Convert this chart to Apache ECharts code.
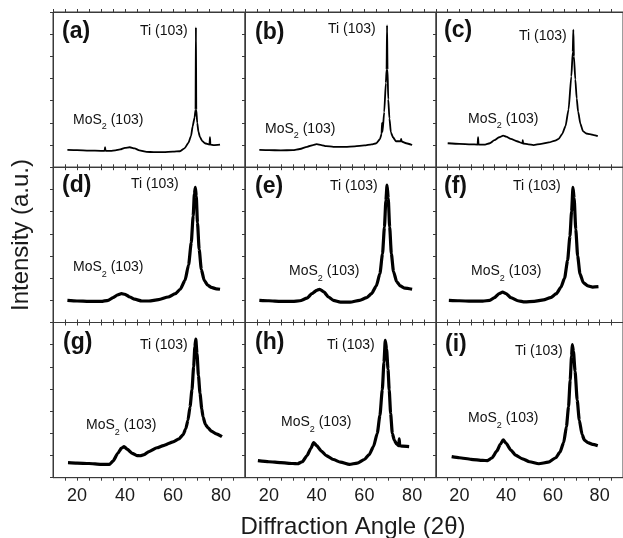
<!DOCTYPE html>
<html>
<head>
<meta charset="utf-8">
<script src="https://cdn.jsdelivr.net/npm/echarts@6/dist/echarts.min.js"></script>
<style>html,body{margin:0;padding:0;background:#fff}#c{width:623px;height:538px}</style>
</head>
<body>
<div id="c"></div>
<script>
// ---- data (2θ, intensity a.u.) ----
const xTickLabels = [20, 40, 60, 80];
const panelNames = ['(a)', '(b)', '(c)', '(d)', '(e)', '(f)', '(g)', '(h)', '(i)'];
const peakTi = 'Ti (103)';
const peakMoS2 = ['MoS', '2', ' (103)'];

const panelA = [[16,0.78],[20,0.77],[25,0.75],[30,0.74],[31.5,0.74],[31.7,0.9],[31.9,0.74],[34,0.74],[36,0.76],[38,0.8],[40,0.87],[42,0.9],[44,0.85],[46,0.76],[49,0.69],[52,0.68],[56,0.68],[60,0.7],[62.9,0.72],[64.8,0.85],[66.4,1.1],[67.5,1.4],[68.2,1.85],[69.0,2.25],[69.4,2.6],[69.55,6.3],[69.7,2.6],[70.1,2.0],[70.6,1.6],[71.25,1.35],[72.2,1.18],[73.3,1.08],[75.2,1.02],[75.4,1.35],[75.6,1.02],[77,1.0],[79.6,1.02]];
const panelB = [[16,0.78],[20,0.77],[25,0.76],[30,0.77],[33,0.82],[36,0.92],[38.5,1.0],[40,1.04],[42,1.0],[44,0.95],[47,0.92],[52,0.92],[56,0.94],[60,0.98],[63,1.03],[65,1.08],[66.5,1.26],[67.2,1.5],[67.4,2.0],[67.6,1.6],[68.3,2.48],[69.0,3.8],[69.3,4.4],[69.5,6.4],[69.7,4.4],[70.0,3.06],[70.5,2.2],[71.1,1.57],[72.0,1.35],[73.2,1.17],[75.2,1.17],[75.4,1.28],[75.6,1.16],[77.5,1.08],[80,1.0]];
const panelC = [[15,1.08],[20,1.05],[25,1.03],[27.8,1.02],[28,1.35],[28.2,1.02],[31,1.02],[33,1.08],[35,1.22],[37,1.35],[38.75,1.42],[40,1.38],[42,1.28],[44.6,1.17],[47,1.08],[47.1,1.22],[47.3,1.07],[49.5,1.03],[51.7,1.0],[55,1.05],[58.3,1.12],[61,1.2],[62.5,1.28],[64,1.5],[65.4,1.85],[66.7,2.6],[67.9,4.1],[68.5,5.2],[68.75,6.2],[69.0,5.0],[69.6,3.96],[70.2,3.1],[70.8,2.5],[71.8,1.95],[72.9,1.62],[74.3,1.52],[75.8,1.49],[77.5,1.45],[79.2,1.4]];
const panelD = [[16,1.0],[20,0.97],[25,0.95],[30,0.95],[33,1.0],[35,1.12],[37,1.25],[38.5,1.3],[40,1.27],[42,1.15],[44,1.05],[47,0.97],[50,0.97],[54,1.03],[58,1.15],[61,1.3],[63,1.5],[65,1.9],[66.5,2.6],[67.6,3.6],[68.4,4.8],[68.9,5.8],[69.3,6.1],[69.7,5.7],[70.2,4.5],[70.9,3.3],[71.8,2.4],[73,1.9],[74.5,1.68],[76,1.58],[78,1.52],[79.6,1.5]];
const panelE = [[16,1.0],[20,0.98],[25,0.95],[30,0.95],[33,0.98],[36,1.1],[38,1.3],[40,1.45],[41.3,1.5],[43,1.38],[45,1.15],[47,1.0],[50,0.92],[54,0.92],[58,1.0],[61,1.12],[63,1.3],[65,1.65],[66.5,2.2],[67.6,3.1],[68.4,4.3],[69,5.5],[69.5,6.2],[70,5.6],[70.6,4.3],[71.3,3.1],[72.2,2.3],[73.5,1.85],[75,1.65],[77,1.55],[80,1.5]];
const panelF = [[15.5,1.0],[20,0.98],[25,0.96],[30,0.96],[33,1.0],[35,1.12],[37,1.3],[38.5,1.37],[40,1.3],[42,1.12],[45,0.98],[48,0.93],[52,0.95],[56,1.02],[59,1.12],[61.5,1.3],[63.5,1.6],[65,2.0],[66.3,2.8],[67.3,3.9],[68,5.0],[68.6,6.1],[69.1,5.6],[69.8,4.2],[70.6,3.0],[71.6,2.2],[73,1.8],[75,1.65],[77,1.6],[79.5,1.62]];
const panelG = [[16.25,0.68],[20,0.66],[25,0.64],[30,0.6],[33.5,0.6],[35,0.75],[37,1.1],[38.5,1.33],[39.6,1.4],[41,1.28],[43,1.1],[45,1.0],[46.3,0.99],[48,1.04],[50,1.18],[53.3,1.35],[56,1.45],[60,1.62],[62.5,1.75],[64.2,1.94],[65.3,2.2],[66.25,2.6],[67.1,3.2],[67.9,3.96],[68.6,5.0],[69.1,5.9],[69.5,6.25],[70,5.6],[70.6,4.6],[71.25,3.8],[72,3.1],[72.5,2.75],[73.5,2.4],[74.6,2.25],[76,2.1],[78,1.98],[80.4,1.85]];
const panelH = [[15.4,0.77],[20,0.72],[25,0.68],[30,0.64],[32,0.63],[34,0.72],[36,1.0],[37.5,1.3],[38.75,1.58],[40,1.45],[42,1.2],[44,1.0],[47,0.82],[50,0.7],[53.75,0.6],[57,0.66],[60,0.82],[62,1.04],[63.8,1.4],[65.4,2.0],[66.5,2.8],[67.5,3.96],[68.2,5.2],[68.75,6.2],[69.3,5.8],[69.9,4.9],[70.4,3.96],[71,2.9],[71.7,2.0],[72.5,1.7],[73.5,1.52],[74.4,1.45],[74.6,1.75],[74.8,1.44],[76,1.42],[78.75,1.4]];
const panelI = [[16.7,0.95],[20,0.9],[25,0.83],[30,0.78],[32,0.77],[34,0.9],[36,1.2],[37.5,1.5],[38.75,1.71],[40,1.55],[42,1.25],[44,1.02],[47,0.85],[50,0.72],[54,0.63],[58,0.7],[61.25,0.9],[63,1.15],[64.6,1.58],[65.8,2.3],[66.7,3.2],[67.4,4.4],[68,5.5],[68.3,6.0],[68.8,5.7],[69.5,4.8],[70.4,3.5],[71.3,2.6],[72.5,1.94],[73.5,1.7],[75,1.58],[77,1.5],[79.2,1.44]];
const panels = [panelA, panelB, panelC, panelD, panelE, panelF, panelG, panelH, panelI];

// ---- layout ----
const colLeft = [53, 245, 436];
const colWidth = [192, 191, 191];
const rowTop = [12, 167.3, 322.5];
const rowH = 155.2;
// annotation offsets inside each panel: [labelX,labelY, tiX,tiY, mosX,mosY]
const annot = [
  [9,20, 87,19, 20,108],
  [10,21, 83,17, 20,117],
  [8,19, 83,24, 32,107],
  [9,18, 78,17, 20,100],
  [10,19, 85,19, 44,104],
  [8,19, 77,19, 35,104],
  [10,20, 87,23, 33,103],
  [10,20, 82,23, 36,100],
  [9,22, 79,29, 32,96]
];

const FONT = '"Liberation Sans", Arial, Helvetica, sans-serif';
const AX = '#3a3a3a';

const grids = [], xAxes = [], yAxes = [], series = [], graphics = [];
for (let i = 0; i < 9; i++) {
  const r = Math.floor(i / 3), c = i % 3;
  const L = colLeft[c], T = rowTop[r];
  grids.push({left: L, top: T, width: colWidth[c], height: rowH, show: true,
    borderColor: AX, borderWidth: 1, backgroundColor: 'transparent', containLabel: false});
  xAxes.push({gridIndex: i, type: 'value', min: 10, max: 90, interval: 5, position: 'bottom',
    axisLine: {show: true, lineStyle: {color: AX, width: 1}},
    axisTick: {show: true, inside: false, length: 3, lineStyle: {color: AX}},
    splitLine: {show: false},
    axisLabel: {show: r === 2, margin: 9, fontSize: 18, fontFamily: FONT, color: '#1a1a1a',
      showMinLabel: false, showMaxLabel: false,
      formatter: v => (xTickLabels.indexOf(v) >= 0 ? String(v) : '')}
  });
  xAxes.push({gridIndex: i, type: 'value', min: 10, max: 90, interval: 5, position: 'top',
    axisLine: {show: true, lineStyle: {color: AX, width: 1}},
    axisTick: {show: true, inside: false, length: 3, lineStyle: {color: AX}},
    splitLine: {show: false}, axisLabel: {show: false}
  });
  yAxes.push({gridIndex: i, type: 'value', min: 0, max: 7, interval: 1, position: 'left',
    axisLine: {show: true, lineStyle: {color: AX, width: 1}},
    axisTick: {show: true, inside: false, length: 3, lineStyle: {color: AX}},
    splitLine: {show: false}, axisLabel: {show: false}
  });
  series.push({type: 'line', xAxisIndex: 2 * i, yAxisIndex: i, data: panels[i],
    showSymbol: false, symbol: 'none', smooth: 0.2, smoothMonotone: 'x',
    lineStyle: {color: '#000', width: r === 0 ? 1.8 : 3.2}, silent: true, animation: false});
  const a = annot[i];
  graphics.push({type: 'text', x: L + a[0], y: T + a[1], style: {text: panelNames[i],
    font: 'bold 23px ' + FONT, fill: '#111', textVerticalAlign: 'middle', verticalAlign: 'middle'}});
  graphics.push({type: 'text', x: L + a[2], y: T + a[3], style: {text: peakTi,
    font: '14px ' + FONT, fill: '#111', textVerticalAlign: 'middle', verticalAlign: 'middle'}});
  graphics.push({type: 'text', x: L + a[4], y: T + a[5], style: {
    text: '{m|' + peakMoS2[0] + '}{s|' + peakMoS2[1] + '}{m|' + peakMoS2[2] + '}',
    textVerticalAlign: 'middle', verticalAlign: 'middle', fill: '#111',
    rich: {m: {fontSize: 14, fontFamily: FONT, color: '#111'},
           s: {fontSize: 9, fontFamily: FONT, color: '#111', padding: [14, 0, 0, 0]}}}});
}
graphics.push({type: 'text', x: 353, y: 527, style: {text: 'Diffraction Angle (2θ)',
  font: '24px ' + FONT, fill: '#1a1a1a', textAlign: 'center', align: 'center',
  textVerticalAlign: 'middle', verticalAlign: 'middle'}});
graphics.push({type: 'text', x: 21, y: 235, rotation: Math.PI / 2, style: {text: 'Intensity (a.u.)',
  font: '24px ' + FONT, fill: '#1a1a1a', textAlign: 'center', align: 'center',
  textVerticalAlign: 'middle', verticalAlign: 'middle'}});

const chart = echarts.init(document.getElementById('c'), null, {renderer: 'canvas'});
chart.setOption({animation: false, backgroundColor: '#fff', grid: grids, xAxis: xAxes, yAxis: yAxes,
  series: series, graphic: graphics});
</script>
</body>
</html>
